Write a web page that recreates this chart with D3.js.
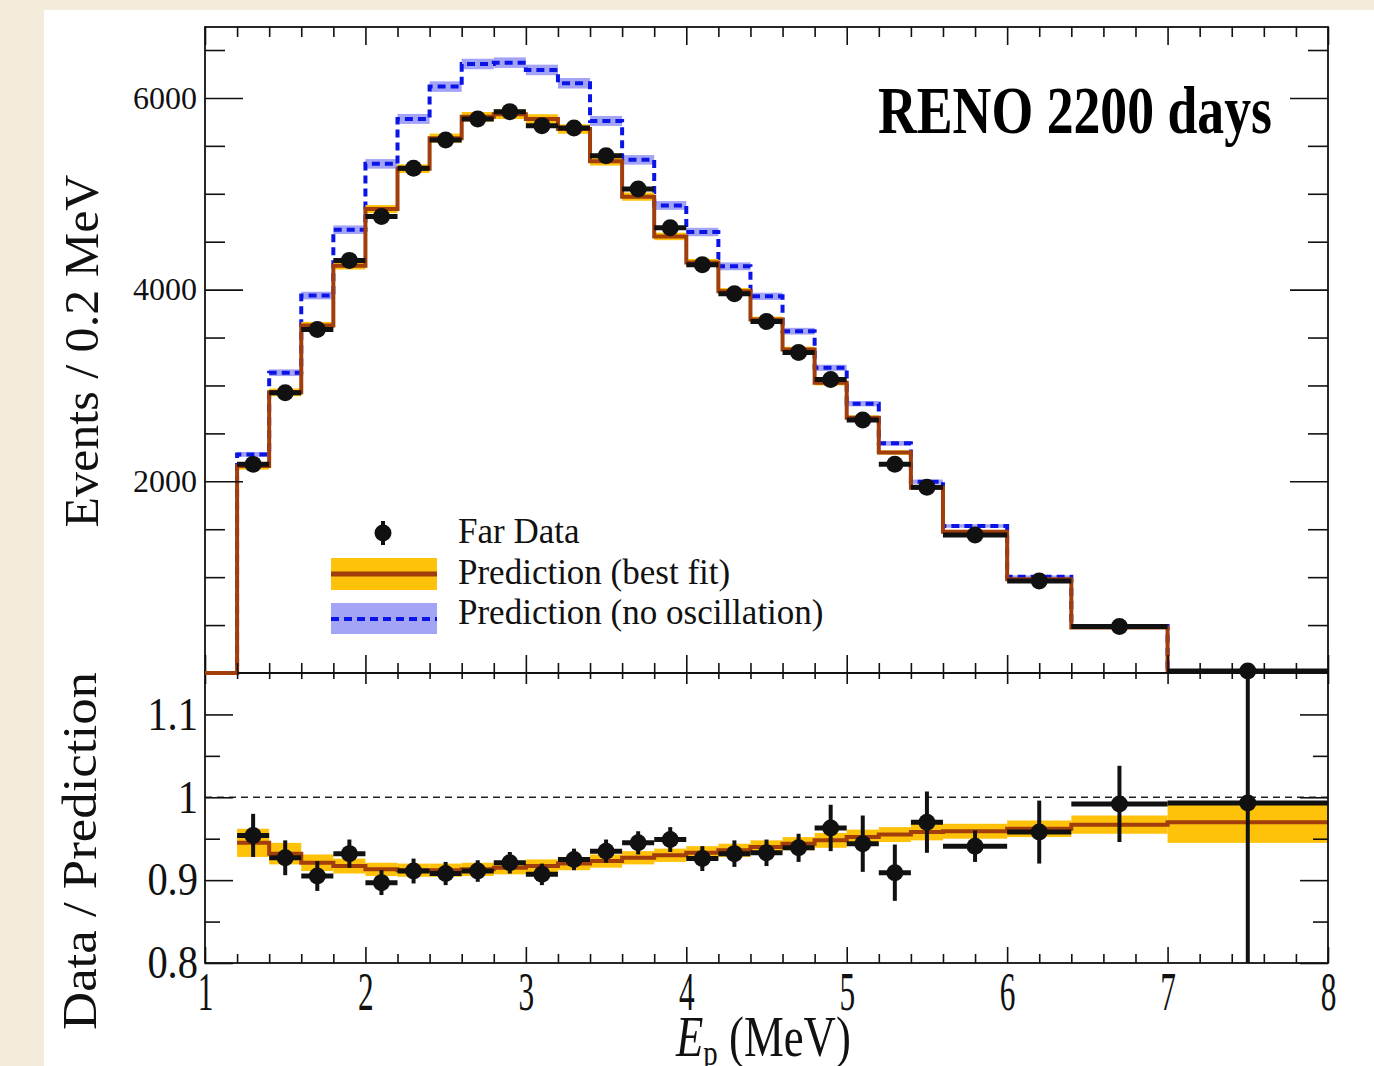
<!DOCTYPE html>
<html>
<head>
<meta charset="utf-8">
<script src="https://cdn.jsdelivr.net/npm/d3@7"></script>
<style>
  html, body { margin: 0; padding: 0; background: #f3ecdb; }
  svg { display: block; }
</style>
</head>
<body>
<svg id="chart"></svg>
<script>
const W = 1374;
const H = 1066;
const serif = "'Liberation Serif', 'Times New Roman', serif";

// Bin edges (MeV)
const binLo = [1.2, 1.4, 1.6, 1.8, 2.0, 2.2, 2.4, 2.6, 2.8, 3.0, 3.2, 3.4, 3.6,
  3.8, 4.0, 4.2, 4.4, 4.6, 4.8, 5.0, 5.2, 5.4, 5.6, 6.0, 6.4, 7.0];
const binHi = [1.4, 1.6, 1.8, 2.0, 2.2, 2.4, 2.6, 2.8, 3.0, 3.2, 3.4, 3.6, 3.8,
  4.0, 4.2, 4.4, 4.6, 4.8, 5.0, 5.2, 5.4, 5.6, 6.0, 6.4, 7.0, 8.0];

// Top panel: events / 0.2 MeV
const farData = [2177, 2924, 3583, 4305, 4764, 5267, 5562, 5781, 5857, 5711, 5687, 5396, 5049,
  4646, 4260, 3958, 3667, 3344, 3062, 2639, 2177, 1937, 1440, 960, 485, 20];
const farDataErr = [47, 54, 60, 66, 69, 73, 75, 76, 77, 76, 75, 73, 71,
  68, 65, 63, 61, 58, 55, 51, 47, 44, 38, 31, 22, 5];
const bestFit = [2160, 2928, 3625, 4250, 4840, 5262, 5580, 5803, 5830, 5780, 5675, 5340, 4970,
  4555, 4283, 3982, 3687, 3375, 3028, 2663, 2300, 1934, 1474, 978, 475, 19];
const bestFitErr = [38, 40, 38, 40, 42, 45, 48, 50, 50, 50, 49, 46, 43,
  39, 37, 34, 31, 29, 28, 25, 22, 20, 14, 10, 6, 1];
const noOsc = [2281, 3133, 3938, 4625, 5312, 5781, 6118, 6354, 6368, 6292, 6153, 5760, 5354,
  4878, 4601, 4243, 3930, 3566, 3184, 2810, 2396, 1996, 1534, 1005, 491, 20];
const noOscErr = [25, 35, 40, 45, 50, 52, 55, 55, 55, 55, 55, 52, 50,
  46, 44, 41, 38, 35, 32, 28, 25, 22, 18, 13, 8, 2];

// Bottom panel: data / prediction
const ratioData = [0.954, 0.927, 0.905, 0.932, 0.897, 0.911, 0.908, 0.911, 0.921, 0.907, 0.925, 0.935, 0.945,
  0.949, 0.926, 0.932, 0.933, 0.939, 0.963, 0.944, 0.909, 0.970, 0.941, 0.958, 0.992, 0.993];
const ratioErr = [0.026, 0.021, 0.018, 0.017, 0.015, 0.015, 0.014, 0.013, 0.013, 0.013, 0.013, 0.014, 0.014,
  0.015, 0.015, 0.016, 0.016, 0.017, 0.028, 0.034, 0.034, 0.037, 0.019, 0.038, 0.046, 0.6];
const ratioFit = [0.945, 0.932, 0.921, 0.917, 0.913, 0.912, 0.912, 0.913, 0.915, 0.917, 0.920, 0.923, 0.927,
  0.930, 0.933, 0.936, 0.940, 0.944, 0.948, 0.952, 0.955, 0.958, 0.959, 0.962, 0.967, 0.970];
const ratioFitErr = [0.017, 0.013, 0.010, 0.009, 0.008, 0.008, 0.008, 0.008, 0.008, 0.008, 0.008, 0.008, 0.008,
  0.008, 0.008, 0.008, 0.008, 0.008, 0.009, 0.009, 0.009, 0.010, 0.009, 0.010, 0.011, 0.025];

// Tick labels
const xTicks = [1, 2, 3, 4, 5, 6, 7, 8];
const yTopTicks = [2000, 4000, 6000];
const yTopMinor = [500, 1000, 1500, 2500, 3000, 3500, 4500, 5000, 5500, 6500];
const yBotTicks = [0.8, 0.9, 1, 1.1];
const yBotMinor = [0.85, 0.95, 1.05];
const xMinor = d3.range(10, 80, 2).filter(v => v % 10 !== 0).map(v => v / 10);

const legendLabels = ["Far Data", "Prediction (best fit)", "Prediction (no oscillation)"];

// Colours
const cBrown = "#a13e0c";
const cGold = "#ffc20a";
const cBlue = "#0a14e6";
const cBlueBand = "#a4a4f6";
const cInk = "#111";

// Scales
const x = d3.scaleLinear().domain([1, 8]).range([205, 1328]);
const yTop = d3.scaleLinear().domain([0, 6740]).range([673, 27]);
const yBot = d3.scaleLinear().domain([0.8, 1.15]).range([963, 673]);

const svg = d3.select("#chart").attr("width", W).attr("height", H);

// page background
svg.append("rect").attr("width", W).attr("height", H).attr("fill", "#f3ecdb");
svg.append("rect").attr("x", 44).attr("y", 10).attr("width", W - 44).attr("height", H - 10).attr("fill", "#fff");

const defs = svg.append("defs");
// top clip reaches a little below the frame so the zero-level step line shows in full
defs.append("clipPath").attr("id", "clipTop").append("rect")
  .attr("x", x(1)).attr("y", yTop(6740)).attr("width", x(8) - x(1)).attr("height", yTop(0) - yTop(6740) + 3);
defs.append("clipPath").attr("id", "clipBot").append("rect")
  .attr("x", x(1)).attr("y", yBot(1.15)).attr("width", x(8) - x(1)).attr("height", yBot(0.8) - yBot(1.15));

const bins = binLo.map((lo, i) => ({ lo, hi: binHi[i], c: (lo + binHi[i]) / 2, i }));

// step outline for a histogram
const stepPoints = (vals, withZero) => {
  const pts = withZero ? [[1, 0], [binLo[0], 0]] : [];
  vals.forEach((v, i) => { pts.push([binLo[i], v], [binHi[i], v]); });
  return pts;
};

// ---------------- Top panel ----------------
const gTop = svg.append("g").attr("clip-path", "url(#clipTop)");
const lineTop = d3.line().x(d => x(d[0])).y(d => yTop(d[1]));

gTop.selectAll("rect.blueband").data(bins).enter().append("rect")
  .attr("x", d => x(d.lo)).attr("width", d => x(d.hi) - x(d.lo))
  .attr("y", d => yTop(noOsc[d.i] + noOscErr[d.i]))
  .attr("height", d => yTop(noOsc[d.i] - noOscErr[d.i]) - yTop(noOsc[d.i] + noOscErr[d.i]))
  .attr("fill", cBlueBand);

gTop.append("path").datum(stepPoints(noOsc, true))
  .attr("d", lineTop).attr("fill", "none")
  .attr("stroke", cBlue).attr("stroke-width", 4).attr("stroke-dasharray", "8,5");

gTop.selectAll("rect.goldband").data(bins).enter().append("rect")
  .attr("x", d => x(d.lo)).attr("width", d => x(d.hi) - x(d.lo))
  .attr("y", d => yTop(bestFit[d.i] + bestFitErr[d.i]))
  .attr("height", d => yTop(bestFit[d.i] - bestFitErr[d.i]) - yTop(bestFit[d.i] + bestFitErr[d.i]))
  .attr("fill", cGold);

gTop.append("path").datum(stepPoints(bestFit, true))
  .attr("d", lineTop).attr("fill", "none")
  .attr("stroke", cBrown).attr("stroke-width", 4).attr("stroke-linejoin", "miter");

const gTopData = svg.append("g");
gTopData.selectAll("line.xerr").data(bins).enter().append("line")
  .attr("x1", d => x(d.lo)).attr("x2", d => x(d.hi))
  .attr("y1", d => yTop(farData[d.i])).attr("y2", d => yTop(farData[d.i]))
  .attr("stroke", cInk).attr("stroke-width", 5);
gTopData.selectAll("line.yerr").data(bins).enter().append("line")
  .attr("x1", d => x(d.c)).attr("x2", d => x(d.c))
  .attr("y1", d => yTop(farData[d.i] - farDataErr[d.i])).attr("y2", d => yTop(farData[d.i] + farDataErr[d.i]))
  .attr("stroke", cInk).attr("stroke-width", 4);
gTopData.selectAll("circle").data(bins).enter().append("circle")
  .attr("cx", d => x(d.c)).attr("cy", d => yTop(farData[d.i])).attr("r", 8.5)
  .attr("fill", cInk);

// ---------------- Bottom panel ----------------
const gBot = svg.append("g").attr("clip-path", "url(#clipBot)");
const lineBot = d3.line().x(d => x(d[0])).y(d => yBot(d[1]));

gBot.append("line")
  .attr("x1", x(1)).attr("x2", x(8)).attr("y1", yBot(1)).attr("y2", yBot(1))
  .attr("stroke", "#222").attr("stroke-width", 1.4).attr("stroke-dasharray", "7,5");

gBot.selectAll("rect.goldband").data(bins).enter().append("rect")
  .attr("x", d => x(d.lo)).attr("width", d => x(d.hi) - x(d.lo))
  .attr("y", d => yBot(ratioFit[d.i] + ratioFitErr[d.i]))
  .attr("height", d => yBot(ratioFit[d.i] - ratioFitErr[d.i]) - yBot(ratioFit[d.i] + ratioFitErr[d.i]))
  .attr("fill", cGold);

gBot.append("path").datum(stepPoints(ratioFit, false))
  .attr("d", lineBot).attr("fill", "none")
  .attr("stroke", cBrown).attr("stroke-width", 4);

gBot.selectAll("line.xerr").data(bins).enter().append("line")
  .attr("x1", d => x(d.lo)).attr("x2", d => x(d.hi))
  .attr("y1", d => yBot(ratioData[d.i])).attr("y2", d => yBot(ratioData[d.i]))
  .attr("stroke", cInk).attr("stroke-width", 5);
gBot.selectAll("line.yerr").data(bins).enter().append("line")
  .attr("x1", d => x(d.c)).attr("x2", d => x(d.c))
  .attr("y1", d => yBot(ratioData[d.i] - ratioErr[d.i])).attr("y2", d => yBot(ratioData[d.i] + ratioErr[d.i]))
  .attr("stroke", cInk).attr("stroke-width", 4);
svg.append("g").selectAll("circle").data(bins).enter().append("circle")
  .attr("cx", d => x(d.c)).attr("cy", d => yBot(ratioData[d.i])).attr("r", 8.5)
  .attr("fill", cInk);

// ---------------- Axes ----------------
const addAxis = (axis, tx, ty, fontSize) => {
  const g = svg.append("g").attr("transform", `translate(${tx},${ty})`).call(axis);
  g.attr("font-family", serif).attr("font-size", fontSize || 10);
  g.select(".domain").remove();
  g.selectAll("line").attr("stroke", cInk).attr("stroke-width", 1.6);
  g.selectAll("text").attr("fill", cInk);
  return g;
};
const noLabel = () => "";

// top panel
addAxis(d3.axisLeft(yTop).tickValues(yTopTicks).tickSize(-38).tickPadding(8).tickFormat(d3.format("d")), x(1), 0, 32);
addAxis(d3.axisLeft(yTop).tickValues(yTopMinor).tickSize(-20).tickFormat(noLabel), x(1), 0);
addAxis(d3.axisRight(yTop).tickValues(yTopTicks).tickSize(-38).tickFormat(noLabel), x(8), 0);
addAxis(d3.axisRight(yTop).tickValues(yTopMinor).tickSize(-20).tickFormat(noLabel), x(8), 0);
addAxis(d3.axisTop(x).tickValues(xTicks).tickSize(-18).tickFormat(noLabel), 0, yTop(6740));
addAxis(d3.axisTop(x).tickValues(xMinor).tickSize(-10).tickFormat(noLabel), 0, yTop(6740));
addAxis(d3.axisBottom(x).tickValues(xTicks).tickSize(-18).tickFormat(noLabel), 0, yTop(0));
addAxis(d3.axisBottom(x).tickValues(xMinor).tickSize(-10).tickFormat(noLabel), 0, yTop(0));

// bottom panel
const gBotLeft = addAxis(d3.axisLeft(yBot).tickValues(yBotTicks).tickSize(-28).tickPadding(8).tickFormat(d3.format("")), x(1), 0, 46);
gBotLeft.selectAll("text").attr("transform", "scale(0.88,1)");
addAxis(d3.axisLeft(yBot).tickValues(yBotMinor).tickSize(-15).tickFormat(noLabel), x(1), 0);
addAxis(d3.axisRight(yBot).tickValues(yBotTicks).tickSize(-28).tickFormat(noLabel), x(8), 0);
addAxis(d3.axisRight(yBot).tickValues(yBotMinor).tickSize(-15).tickFormat(noLabel), x(8), 0);
addAxis(d3.axisTop(x).tickValues(xTicks).tickSize(-11).tickFormat(noLabel), 0, yBot(1.15));
addAxis(d3.axisTop(x).tickValues(xMinor).tickSize(-6).tickFormat(noLabel), 0, yBot(1.15));
const gBotX = addAxis(d3.axisBottom(x).tickValues(xTicks).tickSize(-16).tickPadding(9).tickFormat(d3.format("d")), 0, yBot(0.8), 54);
gBotX.selectAll("text").attr("transform", "scale(0.58,1)");
addAxis(d3.axisBottom(x).tickValues(xMinor).tickSize(-9).tickFormat(noLabel), 0, yBot(0.8));

// frames
svg.append("rect")
  .attr("x", x(1)).attr("y", yTop(6740)).attr("width", x(8) - x(1)).attr("height", yTop(0) - yTop(6740))
  .attr("fill", "none").attr("stroke", cInk).attr("stroke-width", 1.8);
svg.append("rect")
  .attr("x", x(1)).attr("y", yBot(1.15)).attr("width", x(8) - x(1)).attr("height", yBot(0.8) - yBot(1.15))
  .attr("fill", "none").attr("stroke", cInk).attr("stroke-width", 1.8);

// redraw the zero-level stretch of the best-fit step over the frame
svg.append("path").datum([[1, 0], [binLo[0], 0]])
  .attr("d", lineTop).attr("fill", "none").attr("stroke", cBrown).attr("stroke-width", 4);

// ---------------- Titles ----------------
svg.append("text")
  .attr("transform", "translate(98,351) rotate(-90)")
  .attr("text-anchor", "middle").attr("font-family", serif).attr("font-size", 48)
  .attr("textLength", 353).attr("lengthAdjust", "spacingAndGlyphs")
  .attr("fill", cInk).text("Events / 0.2 MeV");

svg.append("text")
  .attr("transform", "translate(96,851) rotate(-90)")
  .attr("text-anchor", "middle").attr("font-family", serif).attr("font-size", 48)
  .attr("textLength", 358).attr("lengthAdjust", "spacingAndGlyphs")
  .attr("fill", cInk).text("Data / Prediction");

const xTitle = svg.append("text")
  .attr("transform", "translate(676,1056) scale(0.8,1)")
  .attr("font-family", serif).attr("font-size", 56).attr("fill", cInk);
xTitle.append("tspan").attr("font-style", "italic").text("E");
xTitle.append("tspan").attr("font-size", 36).attr("dy", 9).text("p");
xTitle.append("tspan").attr("dy", -9).text("\u00a0(MeV)");

svg.append("text")
  .attr("x", 878).attr("y", 133)
  .attr("font-family", serif).attr("font-weight", "bold").attr("font-size", 68)
  .attr("textLength", 394).attr("lengthAdjust", "spacingAndGlyphs")
  .attr("fill", "#000").text("RENO 2200 days");

// ---------------- Legend ----------------
const gLeg = svg.append("g");
gLeg.append("line").attr("x1", 383).attr("x2", 383).attr("y1", 521).attr("y2", 545)
  .attr("stroke", cInk).attr("stroke-width", 4);
gLeg.append("circle").attr("cx", 383).attr("cy", 533).attr("r", 8.5).attr("fill", cInk);

gLeg.append("rect").attr("x", 331).attr("y", 558).attr("width", 106).attr("height", 32).attr("fill", cGold);
gLeg.append("line").attr("x1", 331).attr("x2", 437).attr("y1", 574).attr("y2", 574)
  .attr("stroke", cBrown).attr("stroke-width", 5);

gLeg.append("rect").attr("x", 331).attr("y", 603).attr("width", 106).attr("height", 31).attr("fill", cBlueBand);
gLeg.append("line").attr("x1", 331).attr("x2", 437).attr("y1", 619).attr("y2", 619)
  .attr("stroke", cBlue).attr("stroke-width", 4).attr("stroke-dasharray", "8,5");

const legBaselines = [543, 584, 624];
gLeg.selectAll("text").data(legendLabels).enter().append("text")
  .attr("x", 458).attr("y", (d, i) => legBaselines[i])
  .attr("font-family", serif).attr("font-size", 35).attr("fill", cInk)
  .text(d => d);
</script>
</body>
</html>
